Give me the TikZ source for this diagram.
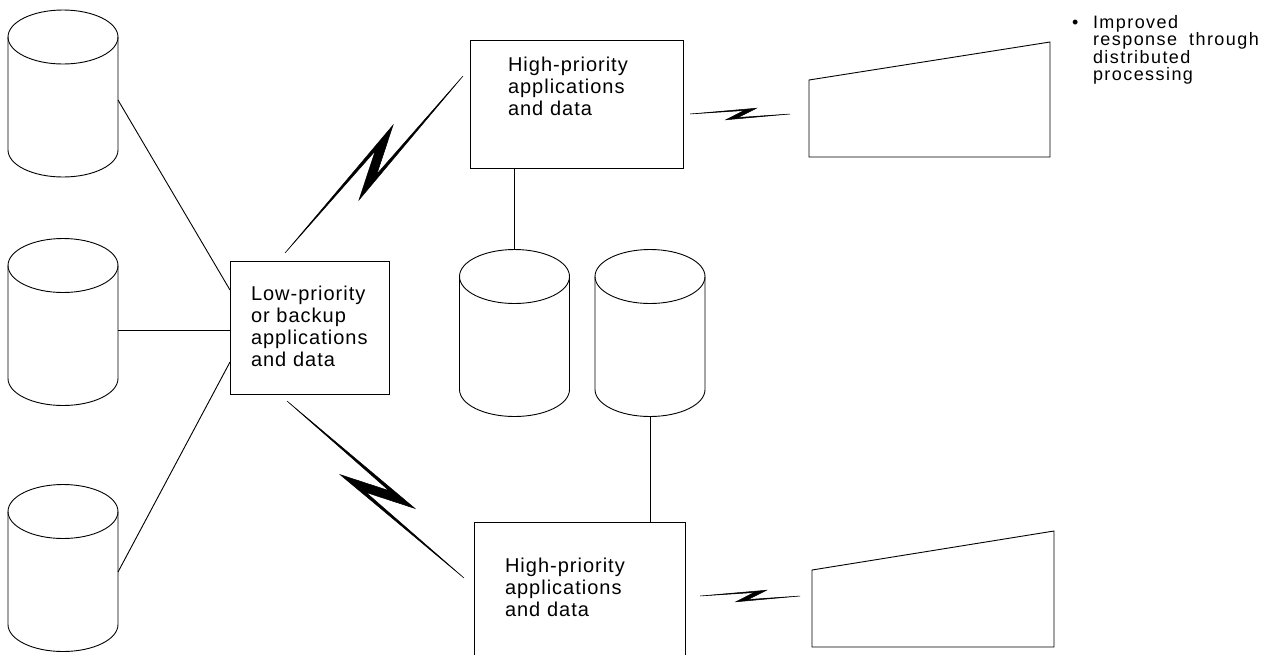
\documentclass[tikz,border=0pt]{standalone}
\usepackage{fontspec}
\setmainfont{Liberation Sans}[LetterSpace=5, WordSpace=2]
\newfontfamily\notefont{Liberation Sans}[LetterSpace=8]
\usetikzlibrary{calc}
\hyphenpenalty=10000
\exhyphenpenalty=10000

% lightning link from #1 to #2
\newcommand{\zap}[2]{%
  \filldraw[bolt] (#1) -- ($(#1)!0.665!(#2)!0.173!90:(#2)$) -- ($(#1)!0.4815!(#2)!0.0675!-90:(#2)$)
    -- (#2) -- ($(#1)!0.358!(#2)!0.0903!-90:(#2)$) -- ($(#1)!0.5415!(#2)!0.0763!90:(#2)$) -- cycle;}
% disk drawn round the frame of node #1
\newcommand{\drum}[1]{%
  \draw[link] ($(#1.north west)+(0,27)$) -- ($(#1.south west)+(0,-27)$)
    arc[start angle=180, end angle=360, x radius=55pt, y radius=27pt] -- ($(#1.north east)+(0,27)$);
  \draw[link] ($(#1.north)+(0,27)$) ellipse[x radius=55pt, y radius=27pt];}

\begin{document}
\begin{tikzpicture}[x=1pt, y=-1pt,
  every node/.style={outer sep=0pt},
  disk/.style={inner sep=0pt, minimum width=110pt, minimum height=167pt},
  box/.style={draw, line width=0.9pt, anchor=north west, align=left, text height=15pt, font=\fontsize{20}{22}\selectfont},
  term/.style={anchor=north west, inner sep=0pt},
  note/.style={anchor=base west, align=left, text width=180pt, inner sep=0pt, font=\notefont\fontsize{18}{17.5}\selectfont},
  link/.style={line width=0.9pt},
  bolt/.style={line width=0.5pt, line join=miter}]
	\useasboundingbox (0,0) rectangle (1273,654);

	\node[disk] (d1) at (63,93.5) {};
	\node[disk] (d2) at (63,322) {};
	\node[disk] (d3) at (63,568) {};
	\node[disk] (d4) at (514.5,333) {};
	\node[disk] (d5) at (650,333) {};
	\drum{d1} \drum{d2} \drum{d3} \drum{d4} \drum{d5}

	\node[box, inner xsep=21pt, inner ysep=24pt, text width=117pt, text depth=70pt] (low) at (230,261) {Low-priority\\or backup\\applications\\and data};
	\node[box, inner xsep=38pt, inner ysep=16pt, text width=137pt, text depth=81pt] (hi1) at (470,40) {High-priority\\applications\\and data};
	\node[box, inner xsep=31pt, inner ysep=35pt, text width=149pt, text depth=55pt] (hi2) at (474,522) {High-priority\\applications\\and data};

	\node[term, minimum width=241pt, minimum height=115pt] (t1) at (809,42) {};
	\node[term, minimum width=242pt, minimum height=116pt] (t2) at (812,531) {};
	\draw[link] (t1.south west) -- (t1.south east) -- (t1.north east) -- ($(t1.north west)+(0,38)$) -- cycle;
	\draw[link] (t2.south west) -- (t2.south east) -- (t2.north east) -- ($(t2.north west)+(0,39)$) -- cycle;

	\node[note] (note) at (1093,28) {\llap{\textbullet\hspace{14.5pt}}Improved\\response\hspace{12pt}through\\distributed\\processing};

	\coordinate (d2r) at ($(d2.east)+(0,8)$);
	\draw[link] ($(d1.east)+(0,6.5)$) -- ($(low.north west)+(0,29)$);
	\draw[link] (d2r) -- (d2r -| low.west);
	\draw[link] ($(d3.east)+(0,4)$) -- ($(low.south west)+(0,-32)$);
	\draw[link] (d4.north) -- (d4.north |- hi1.south);
	\draw[link] (d5.south) -- (d5.south |- hi2.north);

	\coordinate (z1a) at ($(low.north west)+(55,-8)$);
	\coordinate (z1b) at ($(hi1.north west)+(-7,36)$);
	\coordinate (z2a) at ($(low.south west)+(57,7)$);
	\coordinate (z2b) at ($(hi2.north west)+(-10,56)$);
	\coordinate (z3a) at ($(hi1.north east)+(7,74)$);
	\coordinate (z3b) at ($(t1.south west)+(-19,-43)$);
	\coordinate (z4a) at ($(hi2.north east)+(15,74)$);
	\coordinate (z4b) at ($(t2.south west)+(-12,-51)$);
	\zap{z1a}{z1b}
	\zap{z2a}{z2b}
	\zap{z3a}{z3b}
	\zap{z4a}{z4b}
\end{tikzpicture}
\end{document}
